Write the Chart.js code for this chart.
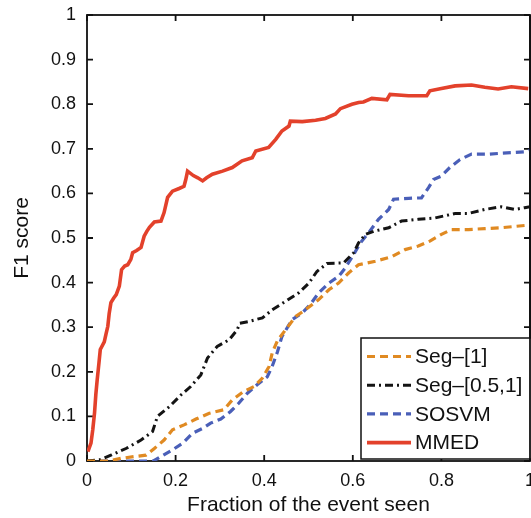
<!DOCTYPE html>
<html>
<head>
<meta charset="utf-8">
<script src="https://cdn.jsdelivr.net/npm/chart.js@4"></script>
<style>
  html, body { margin: 0; padding: 0; background: #fff; overflow: hidden; }
  canvas { display: block; }
</style>
</head>
<body>
<canvas id="chart" width="560" height="518"></canvas>
<script>
// data
const seriesLabels = ['Seg\u2013[1]', 'Seg\u2013[0.5,1]', 'SOSVM', 'MMED'];
const xTickValues = [0, 0.2, 0.4, 0.6, 0.8, 1];
const yTickValues = [0, 0.1, 0.2, 0.3, 0.4, 0.5, 0.6, 0.7, 0.8, 0.9, 1];

const seg1X = [0, 0.05, 0.077, 0.107, 0.133, 0.152, 0.174, 0.193, 0.219, 0.246, 0.276, 0.309, 0.328, 0.354, 0.377, 0.396, 0.411, 0.418, 0.43, 0.448, 0.471, 0.493, 0.523, 0.546, 0.568, 0.591, 0.613, 0.651, 0.688, 0.718, 0.748, 0.774, 0.8, 0.823, 0.861, 0.898, 0.935, 0.988, 1];
const seg1Y = [0, 0, 0.006, 0.01, 0.013, 0.028, 0.047, 0.07, 0.081, 0.094, 0.107, 0.115, 0.137, 0.156, 0.167, 0.186, 0.212, 0.242, 0.27, 0.294, 0.324, 0.339, 0.362, 0.384, 0.399, 0.422, 0.44, 0.448, 0.458, 0.474, 0.482, 0.493, 0.508, 0.519, 0.519, 0.521, 0.523, 0.528, 0.53];

const seg05X = [0, 0.03, 0.054, 0.088, 0.122, 0.148, 0.159, 0.186, 0.212, 0.234, 0.257, 0.272, 0.294, 0.321, 0.339, 0.345, 0.366, 0.396, 0.418, 0.448, 0.478, 0.501, 0.519, 0.542, 0.579, 0.602, 0.613, 0.628, 0.647, 0.681, 0.71, 0.748, 0.786, 0.831, 0.861, 0.898, 0.935, 0.966, 0.988, 1];
const seg05Y = [0, 0.003, 0.013, 0.028, 0.047, 0.066, 0.1, 0.122, 0.148, 0.167, 0.193, 0.231, 0.257, 0.272, 0.294, 0.309, 0.313, 0.321, 0.339, 0.358, 0.377, 0.399, 0.425, 0.443, 0.444, 0.467, 0.489, 0.508, 0.515, 0.523, 0.538, 0.542, 0.545, 0.555, 0.555, 0.564, 0.57, 0.564, 0.568, 0.57];

const sosvmX = [0, 0.15, 0.167, 0.193, 0.216, 0.238, 0.261, 0.279, 0.302, 0.324, 0.343, 0.362, 0.384, 0.407, 0.418, 0.43, 0.44, 0.463, 0.486, 0.504, 0.523, 0.546, 0.568, 0.583, 0.602, 0.617, 0.636, 0.658, 0.681, 0.692, 0.726, 0.755, 0.771, 0.782, 0.8, 0.819, 0.842, 0.868, 0.906, 0.935, 0.988, 1];
const sosvmY = [0, 0, 0.01, 0.025, 0.04, 0.062, 0.073, 0.085, 0.094, 0.111, 0.13, 0.152, 0.171, 0.189, 0.212, 0.245, 0.279, 0.317, 0.332, 0.351, 0.377, 0.399, 0.414, 0.433, 0.463, 0.489, 0.512, 0.542, 0.564, 0.587, 0.589, 0.59, 0.613, 0.631, 0.639, 0.658, 0.676, 0.688, 0.688, 0.69, 0.693, 0.697];

const mmedX = [0.002, 0.009, 0.013, 0.017, 0.02, 0.023, 0.027, 0.03, 0.039, 0.043, 0.047, 0.05, 0.054, 0.06, 0.066, 0.073, 0.078, 0.085, 0.092, 0.099, 0.103, 0.112, 0.122, 0.129, 0.135, 0.141, 0.152, 0.167, 0.174, 0.182, 0.193, 0.208, 0.219, 0.223, 0.227, 0.24, 0.25, 0.261, 0.27, 0.283, 0.306, 0.328, 0.35, 0.373, 0.381, 0.41, 0.426, 0.44, 0.456, 0.459, 0.486, 0.516, 0.538, 0.561, 0.572, 0.598, 0.613, 0.624, 0.643, 0.677, 0.684, 0.726, 0.767, 0.774, 0.8, 0.831, 0.868, 0.898, 0.928, 0.958, 0.996];
const mmedY = [0.021, 0.04, 0.07, 0.108, 0.15, 0.182, 0.22, 0.25, 0.267, 0.285, 0.302, 0.33, 0.355, 0.365, 0.373, 0.392, 0.429, 0.437, 0.44, 0.452, 0.467, 0.472, 0.479, 0.504, 0.515, 0.524, 0.536, 0.538, 0.557, 0.591, 0.605, 0.611, 0.616, 0.631, 0.65, 0.64, 0.635, 0.628, 0.635, 0.643, 0.65, 0.658, 0.673, 0.68, 0.695, 0.703, 0.721, 0.74, 0.751, 0.762, 0.761, 0.764, 0.768, 0.778, 0.79, 0.8, 0.804, 0.805, 0.813, 0.81, 0.822, 0.819, 0.819, 0.83, 0.835, 0.841, 0.843, 0.838, 0.834, 0.839, 0.835];

const pts = (xs, ys) => xs.map((x, i) => ({ x: x, y: ys[i] }));

Chart.defaults.font.family = '"Liberation Sans", Arial, Helvetica, sans-serif';
Chart.defaults.color = '#111';

// MATLAB style box with inward ticks, plus the legend inside the axes
const boxPlugin = {
  id: 'box',
  beforeDatasetsDraw(chart) {
    const { ctx, chartArea: a, scales: { x, y } } = chart;
    ctx.save();
    ctx.strokeStyle = '#111';
    ctx.lineWidth = 1.8;
    ctx.strokeRect(a.left, a.top, a.right - a.left, a.bottom - a.top);
    ctx.beginPath();
    x.ticks.forEach(t => {
      const px = x.getPixelForValue(t.value);
      ctx.moveTo(px, a.bottom); ctx.lineTo(px, a.bottom - 6);
      ctx.moveTo(px, a.top); ctx.lineTo(px, a.top + 6);
    });
    y.ticks.forEach(t => {
      const py = y.getPixelForValue(t.value);
      ctx.moveTo(a.left, py); ctx.lineTo(a.left + 6, py);
      ctx.moveTo(a.right, py); ctx.lineTo(a.right - 6, py);
    });
    ctx.stroke();
    ctx.restore();
  },
  afterDatasetsDraw(chart) {
    const { ctx } = chart;
    const left = 361, top = 338, right = 545, bottom = 459;
    ctx.save();
    ctx.fillStyle = '#fff';
    ctx.fillRect(left, top, right - left, bottom - top);
    ctx.strokeStyle = '#111';
    ctx.lineWidth = 1.5;
    ctx.strokeRect(left, top, right - left, bottom - top);
    chart.data.datasets.forEach((ds, i) => {
      const ry = top + 18.5 + i * 28.7;
      ctx.beginPath();
      ctx.setLineDash(ds.borderDash || []);
      ctx.strokeStyle = ds.borderColor;
      ctx.lineWidth = ds.borderWidth;
      ctx.moveTo(367, ry);
      ctx.lineTo(411, ry);
      ctx.stroke();
      ctx.setLineDash([]);
      ctx.fillStyle = '#111';
      ctx.font = '21px "Liberation Sans", Arial, sans-serif';
      ctx.textBaseline = 'middle';
      ctx.fillText(ds.label, 415, ry + 1);
    });
    // right edge of the axes box shows at the very border of the picture
    const a = chart.chartArea;
    ctx.strokeStyle = '#111';
    ctx.lineWidth = 1.8;
    ctx.beginPath();
    ctx.moveTo(a.right, a.top);
    ctx.lineTo(a.right, a.bottom);
    ctx.stroke();
    ctx.restore();
  }
};

new Chart(document.getElementById('chart').getContext('2d'), {
  type: 'line',
  data: {
    datasets: [
      { label: seriesLabels[0], data: pts(seg1X, seg1Y), borderColor: '#e08a22', borderWidth: 3.2, borderDash: [8, 5] },
      { label: seriesLabels[1], data: pts(seg05X, seg05Y), borderColor: '#141414', borderWidth: 3, borderDash: [8, 4, 2, 4] },
      { label: seriesLabels[2], data: pts(sosvmX, sosvmY), borderColor: '#4a5fb8', borderWidth: 3.2, borderDash: [8, 5] },
      { label: seriesLabels[3], data: pts(mmedX, mmedY), borderColor: '#e3412b', borderWidth: 3.6 }
    ]
  },
  options: {
    responsive: false,
    animation: false,
    elements: { point: { radius: 0 }, line: { tension: 0 } },
    layout: { padding: { top: 15, right: 30, left: 0, bottom: 0 } },
    scales: {
      x: {
        type: 'linear', min: 0, max: 1,
        grid: { display: false, drawTicks: false },
        border: { display: false },
        afterBuildTicks: s => { s.ticks = xTickValues.map(v => ({ value: v })); },
        afterFit: s => { s.height = 57; s.paddingLeft = 0; s.paddingRight = 0; },
        ticks: { font: { size: 18 }, color: '#111', padding: 9, maxRotation: 0, callback: v => String(v) },
        title: { display: true, text: 'Fraction of the event seen', font: { size: 21 }, color: '#111', padding: { top: 0, bottom: 0 } }
      },
      y: {
        type: 'linear', min: 0, max: 1,
        grid: { display: false, drawTicks: false },
        border: { display: false },
        afterBuildTicks: s => { s.ticks = yTickValues.map(v => ({ value: v })); },
        afterFit: s => { s.width = 87; s.paddingTop = 0; s.paddingBottom = 0; },
        ticks: { font: { size: 18 }, color: '#111', padding: 11, callback: v => String(v) },
        title: { display: true, text: 'F1 score', font: { size: 21 }, color: '#111', padding: { top: 10, bottom: 0 } }
      }
    },
    plugins: { legend: { display: false }, tooltip: { enabled: false } }
  },
  plugins: [boxPlugin]
});
</script>
</body>
</html>
